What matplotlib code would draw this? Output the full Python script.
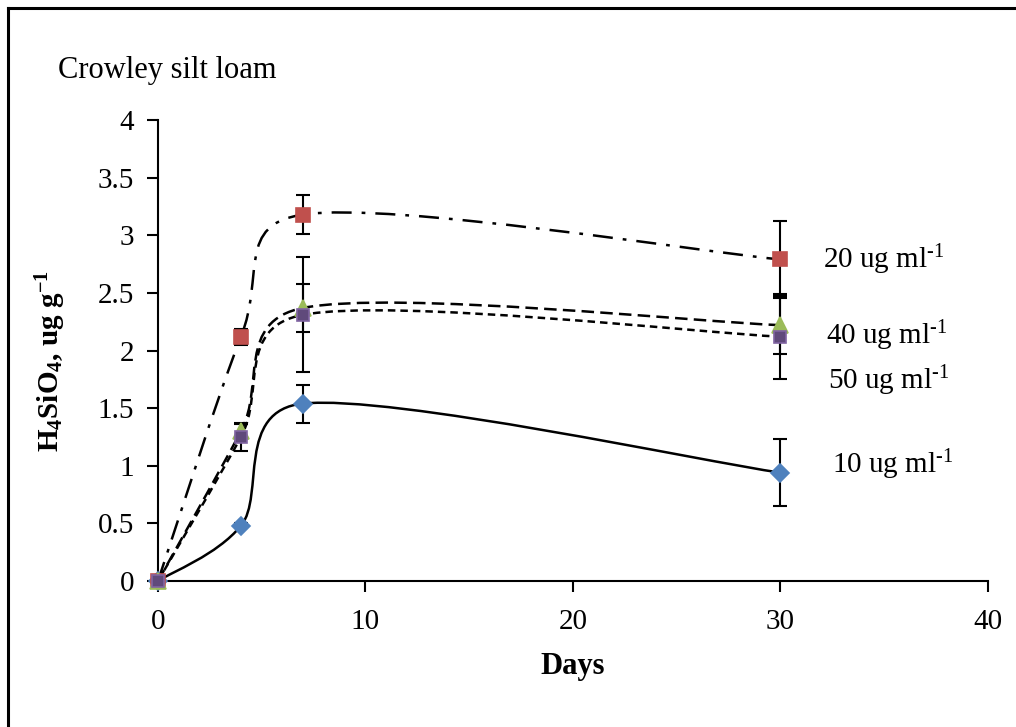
import numpy as np
import matplotlib
matplotlib.use("Agg")
import matplotlib.pyplot as plt
from matplotlib.path import Path
from matplotlib.patches import PathPatch
from matplotlib.lines import Line2D

plt.rcParams['font.family'] = ['Liberation Serif', 'DejaVu Serif']
plt.rcParams['mathtext.fontset'] = 'custom'
plt.rcParams['mathtext.rm'] = 'Liberation Serif'
plt.rcParams['mathtext.it'] = 'Liberation Serif:italic'
plt.rcParams['mathtext.bf'] = 'Liberation Serif:bold'

##data
days = [0, 4, 7, 30]
c10 = [0, 0.48, 1.54, 0.94]
c20 = [0, 2.12, 3.18, 2.79]
c40 = [0, 1.30, 2.37, 2.22]
c50 = [0, 1.25, 2.31, 2.12]
e10 = [0, 0.02, 0.165, 0.29]
e20 = [0, 0.07, 0.17, 0.33]
e40 = [0, 0.06, 0.21, 0.25]
e50 = [0, 0.12, 0.50, 0.37]
names = ["10 ug ml", "20 ug ml", "40 ug ml", "50 ug ml"]

# pixel scale of the axes (used only to shape the smoothed line)
SX, SY = 830 / 40.0, 461 / 4.0


def smooth_path(x, y):
    # excel style smoothed line: bezier, tangent = 1/6 of neighbour chord,
    # clipped to half the segment length (done in screen units)
    pts = np.column_stack([np.asarray(x) * SX, np.asarray(y) * SY]).astype(float)
    n = len(pts)
    verts = [pts[0]]
    codes = [Path.MOVETO]
    for i in range(n - 1):
        p0 = pts[i - 1] if i > 0 else pts[i]
        p1 = pts[i]
        p2 = pts[i + 1]
        p3 = pts[i + 2] if i + 2 < n else pts[i + 1]
        half = np.linalg.norm(p2 - p1) / 2
        t1 = (p2 - p0) / 6
        t2 = (p3 - p1) / 6
        if np.linalg.norm(t1) > half:
            t1 = t1 * half / np.linalg.norm(t1)
        if np.linalg.norm(t2) > half:
            t2 = t2 * half / np.linalg.norm(t2)
        verts += [p1 + t1, p2 - t2, p2]
        codes += [Path.CURVE4] * 3
    verts = np.array(verts) / [SX, SY]
    return Path(verts, codes)


fig = plt.figure(figsize=(10.16, 7.27), dpi=100)
ax = fig.add_axes([0.1555, 0.2008, 0.8169, 0.6341])

series = [
    (c10, e10, 'D', '#4F81BD', '#4F81BD', 9, '-'),
    (c20, e20, 's', '#C0504D', '#C0504D', 10.5, (0, (8, 4, 1.5, 4))),
    (c40, e40, '^', '#9BBB59', '#9BBB59', 11, (0, (5, 2.5))),
    (c50, e50, 's', '#604A7B', '#8064A2', 8, (0, (3, 2))),
]

for vals, errs, mk, fc, ec, ms, ls in series:
    patch = PathPatch(smooth_path(days, vals), facecolor='none', edgecolor='k',
                      linewidth=1.8, linestyle=ls, zorder=2)
    ax.add_patch(patch)
    ax.errorbar(days, vals, yerr=errs, fmt='none', ecolor='k', elinewidth=1.5,
                capsize=5, capthick=1.5, zorder=3)
    ax.plot(days, vals, linestyle='none', marker=mk, markersize=ms,
            markerfacecolor=fc, markeredgecolor=ec, markeredgewidth=1.2,
            zorder=4, clip_on=False)

#series labels
lab_x = [32.5, 32.05, 32.2, 32.3]
lab_y = [1.01, 2.785, 2.13, 1.74]
for nm, lx, ly in zip(names, lab_x, lab_y):
    ax.text(lx, ly, nm + r'$^{\text{-1}}$', fontsize=21, va='center', ha='left')

ax.text(-4.82, 4.43, 'Crowley silt loam', fontsize=22, va='center', ha='left')

#format plot
ax.set_xlim(0, 40)
ax.set_ylim(0, 4)
ax.set_xticks([0, 10, 20, 30, 40])
ax.set_yticks(np.arange(0, 4.01, 0.5))
ax.set_yticklabels(['0', '0.5', '1', '1.5', '2', '2.5', '3', '3.5', '4'])
ax.tick_params(axis='both', labelsize=21, direction='out', length=8, width=1.5)
ax.tick_params(axis='x', pad=12)
ax.tick_params(axis='y', pad=9)
ax.spines['top'].set_visible(False)
ax.spines['right'].set_visible(False)
ax.spines['left'].set_linewidth(1.5)
ax.spines['bottom'].set_linewidth(1.5)

ax.set_xlabel('Days', fontsize=22, fontweight='bold')
ax.set_ylabel(r'H$_{\mathbf{4}}$SiO$_{\mathbf{4}}$, ug g$^{\mathbf{-1}}$', fontsize=21,
              fontweight='bold')
ax.xaxis.set_label_coords(0.5, -0.154)
ax.yaxis.set_label_coords(-0.108, 0.477)

#chart border
fig.add_artist(Line2D([7.5 / 1016, 1.0], [1 - 7.5 / 727, 1 - 7.5 / 727], color='k', linewidth=2.2))
fig.add_artist(Line2D([7.5 / 1016, 7.5 / 1016], [0, 1 - 7.5 / 727], color='k', linewidth=2.2))

fig.savefig('out.png', dpi=100)
